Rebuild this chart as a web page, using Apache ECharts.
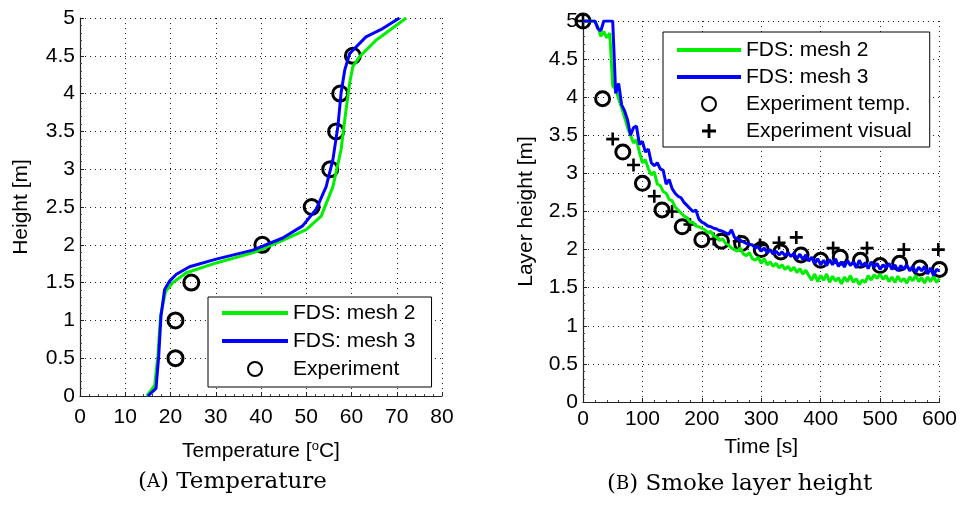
<!DOCTYPE html>
<html>
<head>
<meta charset="utf-8">
<script src="https://cdn.jsdelivr.net/npm/echarts@6.0.0/dist/echarts.min.js"></script>
<style>
  html, body { margin: 0; padding: 0; background: #fff; }
  #chart { width: 960px; height: 510px; }
</style>
</head>
<body>
<div id="chart"></div>
<script>
// (A) vertical temperature profile: [temperature degC, height m]
const tempMesh2 = [[14.8,0],[16.5,0.14],[17.2,0.53],[17.8,1.06],[18.9,1.38],[20.5,1.5],[23.5,1.63],
  [30.1,1.76],[38.5,1.9],[44.8,2.06],[50.0,2.2],[53.3,2.38],[55.9,2.77],[57.7,3.26],[58.8,3.79],
  [59.6,4.14],[60.3,4.36],[61.8,4.49],[65.5,4.71],[72.1,5.0]];
const tempMesh3 = [[15.0,0],[16.8,0.1],[17.4,0.53],[17.9,1.06],[18.7,1.41],[19.8,1.52],[21.3,1.61],
  [24.2,1.71],[30.1,1.81],[38.2,1.93],[44.8,2.09],[49.2,2.25],[52.2,2.47],[54.4,2.77],[55.9,3.13],
  [57.0,3.57],[57.7,4.01],[58.5,4.31],[59.6,4.53],[63.2,4.75],[66.9,4.86],[70.6,5.0]];
const tempExpT = [21.1, 21.1, 24.6, 40.3, 51.2, 55.3, 56.6, 57.5, 60.3];
const tempExpH = [0.5, 1.0, 1.5, 2.0, 2.5, 3.0, 3.5, 4.0, 4.5];

// (B) smoke layer height vs time
const layerTime = [
  0,5,10,15,20,25,30,35,40,45, 50,55,60,65,70,75,80,85,90,95,
  100,105,110,115,120,125,130,135,140,145, 150,155,160,165,170,175,180,185,190,195,
  200,205,210,215,220,225,230,235,240,245, 250,255,260,265,270,275,280,285,290,295,
  300,305,310,315,320,325,330,335,340,345, 350,355,360,365,370,375,380,385,390,395,
  400,405,410,415,420,425,430,435,440,445, 450,455,460,465,470,475,480,485,490,495,
  500,505,510,515,520,525,530,535,540,545, 550,555,560,565,570,575,580,585,590,595, 600];
const layerMesh2 = [
  5.0,5.0,5.0,5.0,5.0,4.92,4.80,4.86,4.78,4.84, 4.15,4.10,3.98,3.86,3.74,3.60,3.50,3.40,3.44,3.28,
  3.14,3.18,3.06,2.98,3.02,2.86,2.84,2.76,2.74,2.66, 2.64,2.56,2.52,2.48,2.44,2.42,2.36,2.36,2.31,2.30,
  2.28,2.26,2.22,2.24,2.18,2.16,2.12,2.14,2.08,2.06, 2.02,2.00,1.98,2.02,1.94,1.92,1.96,1.88,1.86,1.90,
  1.82,1.88,1.80,1.84,1.78,1.82,1.76,1.80,1.74,1.78, 1.72,1.77,1.70,1.75,1.68,1.73,1.66,1.60,1.68,1.58,
  1.66,1.60,1.68,1.57,1.65,1.59,1.63,1.55,1.64,1.58, 1.66,1.57,1.62,1.54,1.60,1.57,1.66,1.60,1.67,1.62,
  1.68,1.61,1.66,1.58,1.64,1.57,1.65,1.58,1.62,1.56, 1.64,1.59,1.66,1.58,1.63,1.56,1.64,1.58,1.65,1.57, 1.62];
const layerMesh3 = [
  5.0,5.0,5.0,5.0,5.0,4.90,4.87,5.0,5.0,5.0, 5.0,4.05,4.18,3.90,3.82,3.70,3.50,3.60,3.62,3.38,
  3.42,3.28,3.32,3.14,3.10,3.14,3.06,3.04,2.86,2.92, 2.80,2.74,2.70,2.68,2.62,2.58,2.54,2.50,2.52,2.40,
  2.36,2.34,2.31,2.30,2.28,2.27,2.25,2.24,2.22,2.20, 2.26,2.16,2.14,2.12,2.10,2.08,2.07,2.06,2.02,2.04,
  1.98,2.02,1.96,2.00,1.94,1.98,1.93,1.97,1.92,1.96, 1.91,1.95,1.88,1.94,1.87,1.93,1.85,1.90,1.82,1.88,
  1.80,1.86,1.79,1.87,1.80,1.88,1.78,1.84,1.77,1.86, 1.79,1.84,1.76,1.86,1.78,1.83,1.75,1.84,1.77,1.82,
  1.74,1.80,1.76,1.82,1.74,1.80,1.72,1.79,1.74,1.80, 1.72,1.78,1.70,1.77,1.72,1.78,1.68,1.76,1.66,1.74, 1.72];
const expTempTime = [0,33,67,100,133,167,200,233,267,300,333,367,400,433,467,500,533,567,600];
const expTempH = [5.0,3.98,3.28,2.87,2.52,2.30,2.13,2.11,2.08,2.0,1.97,1.93,1.86,1.90,1.86,1.79,1.82,1.76,1.74];
const expVisTime = [0,50,85,120,150,180,220,263,298,330,359,421,478,540,598];
const expVisH = [5.0,3.45,3.11,2.70,2.50,2.33,2.14,2.11,2.06,2.09,2.16,2.02,2.02,2.00,2.00];

const GREEN = '#00ee00';
const BLUE = '#0000ff';
const FONT = '"Liberation Sans", Arial, sans-serif';
const SERIF = '"DejaVu Serif", serif';
const PLUS = 'path://M0,4H10V6H0Z M4,0H6V10H4Z';
const LINE_ICON = 'path://M0,0H66V4H0Z';

const zip = (a, b) => a.map((v, i) => [v, b[i]]);

function valueAxis(gridIndex, min, max, interval, extra) {
  return Object.assign({
    type: 'value', gridIndex, min, max, interval,
    axisLine: { show: true, lineStyle: { color: '#222', width: 1.2 } },
    axisTick: { show: true, inside: true, length: 4, lineStyle: { color: '#222' } },
    minorTick: { show: true, splitNumber: 5, length: 2, lineStyle: { color: '#444' } },
    splitLine: { show: true, lineStyle: { color: '#222', width: 1, type: [1, 4] } },
    nameLocation: 'middle',
    nameTextStyle: { color: '#000', fontFamily: FONT, fontSize: 21 }
  }, extra);
}
const tickLabel = margin => ({ color: '#000', fontFamily: FONT, fontSize: 21, margin });

const legendBase = {
  orient: 'vertical',
  backgroundColor: '#fff',
  borderColor: '#000',
  borderWidth: 1,
  borderRadius: 0,
  itemHeight: 14,
  textStyle: { color: '#000', fontFamily: FONT, fontSize: 21, lineHeight: 22 }
};
const scatterStyle = { color: 'rgba(0,0,0,0)', borderColor: '#000', borderWidth: 3, opacity: 1 };

const chart = echarts.init(document.getElementById('chart'));
chart.setOption({
  animation: false,
  backgroundColor: '#fff',
  grid: [
    { left: 80, top: 18, width: 362, height: 378 },
    { left: 583, top: 21, width: 358, height: 381 }
  ],
  xAxis: [
    valueAxis(0, 0, 80, 10, { name: 'Temperature [{s|o}C]', nameGap: 44, axisLabel: tickLabel(11),
      nameTextStyle: { color: '#000', fontFamily: FONT, fontSize: 21,
        rich: { s: { fontFamily: FONT, fontSize: 13, verticalAlign: 'top', padding: [0, 0, 9, 0] } } } }),
    valueAxis(1, 0, 600, 100, { name: 'Time [s]', nameGap: 35, axisLabel: tickLabel(7) })
  ],
  yAxis: [
    valueAxis(0, 0, 5, 0.5, { name: 'Height [m]', nameGap: 48, axisLabel: tickLabel(5) }),
    valueAxis(1, 0, 5, 0.5, { name: 'Layer height [m]', nameGap: 46, axisLabel: tickLabel(5) })
  ],
  legend: [
    Object.assign({}, legendBase, {
      left: 208, top: 297, itemWidth: 66, itemGap: 6, padding: [5, 16, 7, 14],
      data: [{ name: 'FDS: mesh 2', icon: LINE_ICON }, { name: 'FDS: mesh 3', icon: LINE_ICON }, 'Experiment']
    }),
    Object.assign({}, legendBase, {
      left: 663, top: 32, itemWidth: 64, itemGap: 5, padding: [7, 18, 5, 14],
      data: [{ name: 'FDS: mesh 2', icon: LINE_ICON }, { name: 'FDS: mesh 3', icon: LINE_ICON },
        'Experiment temp.', 'Experiment visual']
    })
  ],
  graphic: [
    { type: 'text', left: 138, top: 471, style: { text: '({a|A}) Temperature', fill: '#000', font: '23px ' + SERIF,
      rich: { a: { fontFamily: SERIF, fontSize: 18 } } } },
    { type: 'text', left: 607, top: 473, style: { text: '({a|B}) Smoke layer height', fill: '#000', font: '23px ' + SERIF,
      rich: { a: { fontFamily: SERIF, fontSize: 18 } } } }
  ],
  series: [
    { name: 'FDS: mesh 2', type: 'line', xAxisIndex: 0, yAxisIndex: 0, data: tempMesh2, symbol: 'none',
      color: GREEN, lineStyle: { color: GREEN, width: 3 } },
    { name: 'FDS: mesh 3', type: 'line', xAxisIndex: 0, yAxisIndex: 0, data: tempMesh3, symbol: 'none',
      color: BLUE, lineStyle: { color: BLUE, width: 3 } },
    { name: 'Experiment', type: 'scatter', xAxisIndex: 0, yAxisIndex: 0, data: zip(tempExpT, tempExpH),
      symbol: 'circle', symbolSize: 15, itemStyle: scatterStyle },

    { name: 'FDS: mesh 2', type: 'line', xAxisIndex: 1, yAxisIndex: 1, data: zip(layerTime, layerMesh2), symbol: 'none',
      color: GREEN, lineStyle: { color: GREEN, width: 3 } },
    { name: 'FDS: mesh 3', type: 'line', xAxisIndex: 1, yAxisIndex: 1, data: zip(layerTime, layerMesh3), symbol: 'none',
      color: BLUE, lineStyle: { color: BLUE, width: 3 } },
    { name: 'Experiment temp.', type: 'scatter', xAxisIndex: 1, yAxisIndex: 1, data: zip(expTempTime, expTempH),
      symbol: 'circle', symbolSize: 14, clip: false, itemStyle: scatterStyle },
    { name: 'Experiment visual', type: 'scatter', xAxisIndex: 1, yAxisIndex: 1, data: zip(expVisTime, expVisH),
      symbol: PLUS, symbolSize: 13, clip: false, itemStyle: { color: '#000', opacity: 1 } }
  ]
});
</script>
</body>
</html>
